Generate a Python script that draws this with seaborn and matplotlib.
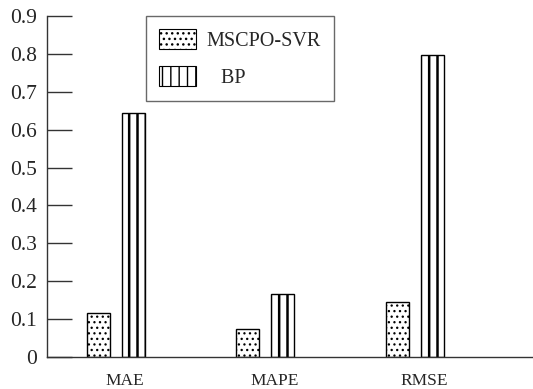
import matplotlib
matplotlib.use("Agg")
import matplotlib.pyplot as plt
import matplotlib.patches as mpatches
import seaborn as sns
import pandas as pd

metrics = ["MAE", "MAPE", "RMSE"]
models = ["MSCPO-SVR", "BP"]
mscpo_svr = [0.115, 0.074, 0.144]
bp = [0.643, 0.165, 0.798]
yticks = [0, 0.1, 0.2, 0.3, 0.4, 0.5, 0.6, 0.7, 0.8, 0.9]
ytick_labels = ["0", "0.1", "0.2", "0.3", "0.4", "0.5", "0.6", "0.7", "0.8", "0.9"]
legend_labels = ["MSCPO-SVR", "   BP"]

df = pd.DataFrame({
    "metric": metrics * 2,
    "model": [models[0]] * 3 + [models[1]] * 3,
    "value": mscpo_svr + bp,
})

sns.set_theme(style="white")
plt.rcParams["font.family"] = ["Liberation Serif", "DejaVu Serif"]
plt.rcParams["hatch.linewidth"] = 1.0
plt.rcParams["hatch.color"] = "black"

fig = plt.figure(figsize=(5.33, 3.89), dpi=100)
ax = fig.add_axes([0.0882, 0.0823, 0.9118, 0.8766])

sns.barplot(data=df, x="metric", y="value", hue="model", order=metrics,
            hue_order=models, width=0.467, gap=0.34, ax=ax,
            palette=["white", "white"], edgecolor="black", linewidth=1.0,
            saturation=1, errorbar=None, legend=False)

hatches = ["...", "||"]
hatch_lw = [0.9, 1.8]


def style_patch(p, h, lw):
    p.set_hatch(h)
    p.set_facecolor("white")
    p.set_edgecolor("black")
    if hasattr(p, "set_hatch_linewidth"):
        p.set_hatch_linewidth(lw)


for cont, h, lw in zip(ax.containers, hatches, hatch_lw):
    for p in cont:
        style_patch(p, h, lw)

ax.set_xlim(-0.46, 2.79)
ax.set_ylim(0, 0.9)
ax.set_yticks(yticks)
ax.set_yticklabels(ytick_labels)
ax.set_xticks([i + 0.06 for i in range(len(metrics))])
ax.set_xticklabels(metrics)
ax.set_xlabel("")
ax.set_ylabel("")

for s in ["top", "right"]:
    ax.spines[s].set_visible(False)
for s in ["left", "bottom"]:
    ax.spines[s].set_color("#333333")
    ax.spines[s].set_linewidth(1.0)

ax.tick_params(axis="y", direction="in", length=18, width=1.0, color="#333333",
               labelsize=15.5, pad=7, left=True)
ax.tick_params(axis="x", length=0, labelsize=12.5, pad=11.5)

proxy = []
for h, lw in zip(hatches, hatch_lw):
    pp = mpatches.Patch(facecolor="white", edgecolor="black", hatch=h, linewidth=0.8)
    if hasattr(pp, "set_hatch_linewidth"):
        pp.set_hatch_linewidth(lw)
    proxy.append(pp)
leg = ax.legend(proxy, legend_labels, loc="upper left", bbox_to_anchor=(0.203, 1.0),
                borderaxespad=0, fontsize=14.5, handlelength=1.85, handleheight=1.15,
                labelspacing=0.75, handletextpad=0.5, borderpad=0.65,
                frameon=True, fancybox=False)
leg.get_frame().set_edgecolor("#444444")
leg.get_frame().set_linewidth(1.0)

fig.savefig("out.png", dpi=100)
